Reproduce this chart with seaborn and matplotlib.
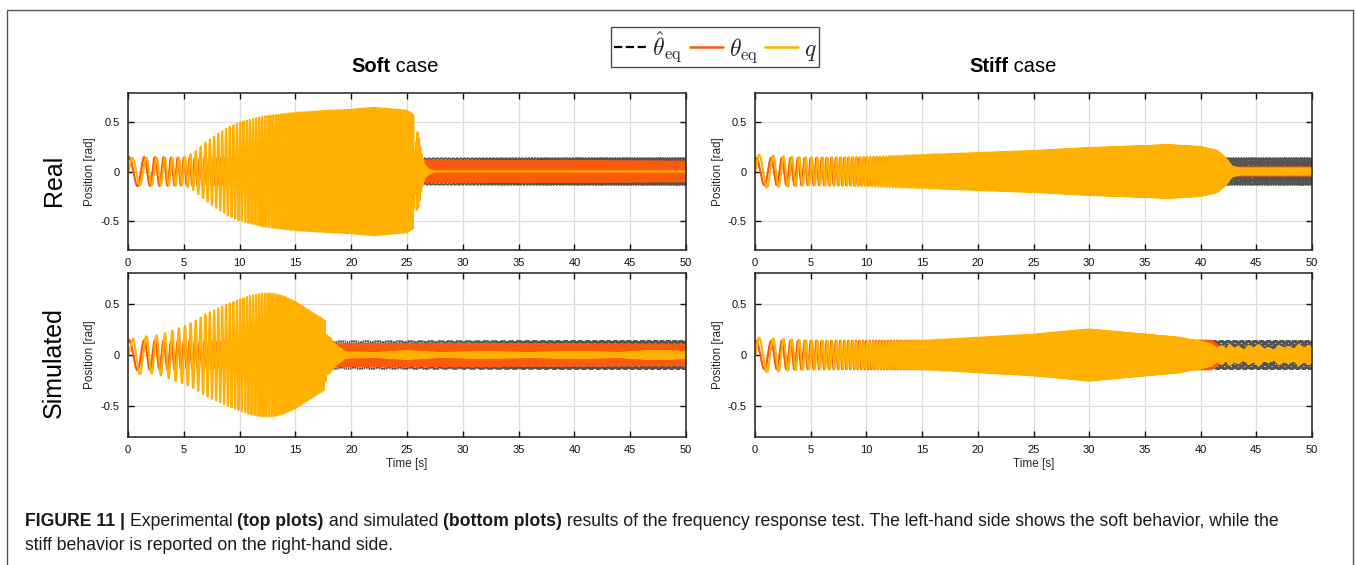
"""
Frequency response test: soft vs stiff, real vs simulated joint positions.
"""

import numpy as np
import pandas as pd
import seaborn as sns
import matplotlib.pyplot as plt
from matplotlib.lines import Line2D


# ---------------------------------------------------------------------
# Data
# ---------------------------------------------------------------------
# chirp reference sweep (Hz) over the test duration (s)
F_START = 0.5
F_END = 14.5
T_END = 50.0
N_SAMPLES = 24000

TIME_TICKS = [0, 5, 10, 15, 20, 25, 30, 35, 40, 45, 50]
POS_TICKS = [-0.5, 0, 0.5]
POS_TICK_LABELS = ["-0.5", "0", "0.5"]

# reference amplitude of theta_eq_hat (rad), same in all panels
HAT_AMP = 0.14

# Soft / Real
SOFT_REAL_EQ_T = [0, 26, 50]
SOFT_REAL_EQ = [0.15, 0.11, 0.10]
SOFT_REAL_Q_T = [0, 0.3, 5, 6, 7, 8, 9, 10, 12, 15, 18, 20, 22, 24, 25,
                 25.55, 25.7, 25.9, 26.05, 26.3, 26.6, 27.0, 27.5, 50]
SOFT_REAL_Q = [0.0, 0.14, 0.14, 0.2, 0.3, 0.38, 0.45, 0.5, 0.56, 0.6, 0.62,
               0.63, 0.65, 0.63, 0.62, 0.58, 0.15, 0.42, 0.35, 0.18, 0.06,
               0.02, 0.0, 0.0]

# Stiff / Real
STIFF_REAL_EQ_T = [0, 42, 43, 50]
STIFF_REAL_EQ = [0.14, 0.14, 0.04, 0.04]
STIFF_REAL_Q_T = [0, 0.3, 5, 10, 15, 20, 25, 30, 35, 37, 40, 41.5, 42.3,
                  42.8, 43.5, 50]
STIFF_REAL_Q = [0.0, 0.17, 0.14, 0.15, 0.17, 0.19, 0.21, 0.24, 0.26, 0.27,
                0.25, 0.21, 0.13, 0.05, 0.03, 0.03]

# Soft / Simulated
SOFT_SIM_EQ_T = [0, 17, 50]
SOFT_SIM_EQ = [0.15, 0.11, 0.10]
SOFT_SIM_Q_T = [0, 0.5, 2, 3, 4, 5, 6, 7, 8, 9, 10, 11, 12, 13, 14, 15, 16,
                17, 17.6, 17.75, 18.1, 18.6, 19.5, 22, 25, 28, 32, 36, 40, 44,
                47, 50]
SOFT_SIM_Q = [0.0, 0.19, 0.18, 0.2, 0.24, 0.28, 0.33, 0.4, 0.45, 0.5, 0.54,
              0.58, 0.6, 0.6, 0.57, 0.52, 0.45, 0.38, 0.34, 0.2, 0.17, 0.1,
              0.03, 0.02, 0.04, 0.02, 0.03, 0.02, 0.03, 0.02, 0.04, 0.03]

# Stiff / Simulated
STIFF_SIM_EQ_T = [0, 41, 42, 50]
STIFF_SIM_EQ = [0.14, 0.14, 0.05, 0.05]
STIFF_SIM_Q_T = [0, 0.3, 5, 10, 15, 20, 25, 28, 30, 32, 35, 38, 40, 41,
                 41.5, 41.9, 42.3, 42.6, 43.0, 43.4, 43.9, 44.3, 44.8, 45.2,
                 45.7, 46.1, 46.6, 47.0, 47.5, 47.9, 48.4, 48.8, 49.3, 49.7,
                 50]
STIFF_SIM_Q = [0.0, 0.17, 0.14, 0.13, 0.14, 0.17, 0.2, 0.23, 0.25, 0.23,
               0.2, 0.17, 0.13, 0.1, 0.06, 0.09, 0.05, 0.1, 0.06, 0.08, 0.04,
               0.09, 0.06, 0.1, 0.05, 0.07, 0.04, 0.09, 0.06, 0.08, 0.05,
               0.1, 0.06, 0.09, 0.07]

COLOR_HAT = "#555555"
COLOR_EQ = "#f95a0c"
COLOR_Q = "#ffb000"

W, H = 1356, 565


# ---------------------------------------------------------------------
# Helpers
# ---------------------------------------------------------------------
def build_panel(eq_t, eq_amp, q_t, q_amp) -> pd.DataFrame:
    t = np.linspace(0, T_END, N_SAMPLES)
    phase = 2 * np.pi * (F_START * t + (F_END - F_START) / (2 * T_END) * t ** 2)
    return pd.DataFrame({
        "time": t,
        "hat": HAT_AMP * np.cos(phase),
        "eq": np.interp(t, eq_t, eq_amp) * np.cos(phase - 0.15),
        "q": np.interp(t, q_t, q_amp) * np.cos(phase - 1.2),
    })


def style_axis(ax, show_xlabel: bool) -> None:
    ax.set_xlim(0, 50)
    ax.set_ylim(-0.8, 0.8)
    ax.set_xticks(TIME_TICKS)
    ax.set_xticklabels([str(v) for v in TIME_TICKS])
    ax.set_yticks(POS_TICKS)
    ax.set_yticklabels(POS_TICK_LABELS)
    ax.grid(True, color="#dcdcdc", linewidth=0.9)
    ax.set_axisbelow(True)
    ax.tick_params(direction="in", length=4, width=1, top=True, right=True,
                   labelsize=8, colors="#111111", pad=6)
    for spine in ax.spines.values():
        spine.set_visible(True)
        spine.set_color("#222222")
        spine.set_linewidth(1.1)
    ax.set_ylabel("Position [rad]", fontsize=8.5, labelpad=3)
    ax.set_xlabel("Time [s]" if show_xlabel else "", fontsize=8.5, labelpad=2)


def draw_panel(ax, df: pd.DataFrame) -> None:
    sns.lineplot(data=df, x="time", y="hat", ax=ax, color=COLOR_HAT,
                 linewidth=0.7, linestyle="--", estimator=None, sort=False)
    sns.lineplot(data=df, x="time", y="eq", ax=ax, color=COLOR_EQ,
                 linewidth=1.5, estimator=None, sort=False)
    sns.lineplot(data=df, x="time", y="q", ax=ax, color=COLOR_Q,
                 linewidth=1.5, estimator=None, sort=False)


def seg_width(fig, renderer, text, **kw) -> float:
    """Width of a text segment in figure fraction, spaces included."""
    a = fig.text(0, 0, "x" + text + "x", **kw)
    b = fig.text(0, 0, "xx", **kw)
    w = a.get_window_extent(renderer).width - b.get_window_extent(renderer).width
    a.remove()
    b.remove()
    return w / fig.bbox.width


# ---------------------------------------------------------------------
# Figure
# ---------------------------------------------------------------------
sns.set_theme(style="ticks")
plt.rcParams["font.family"] = ["Liberation Sans", "DejaVu Sans"]
plt.rcParams["mathtext.fontset"] = "cm"
plt.rcParams["axes.unicode_minus"] = False

fig = plt.figure(figsize=(W / 100, H / 100), dpi=100)
fig.patch.set_facecolor("white")


def px_axes(x0, y0, x1, y1):
    return fig.add_axes([x0 / W, 1 - y1 / H, (x1 - x0) / W, (y1 - y0) / H])


ax_soft_real = px_axes(128, 93, 686, 250)
ax_stiff_real = px_axes(755, 93, 1312, 250)
ax_soft_sim = px_axes(128, 273, 686, 437)
ax_stiff_sim = px_axes(755, 273, 1312, 437)

panels = [
    (ax_soft_real, build_panel(SOFT_REAL_EQ_T, SOFT_REAL_EQ, SOFT_REAL_Q_T, SOFT_REAL_Q), False),
    (ax_stiff_real, build_panel(STIFF_REAL_EQ_T, STIFF_REAL_EQ, STIFF_REAL_Q_T, STIFF_REAL_Q), False),
    (ax_soft_sim, build_panel(SOFT_SIM_EQ_T, SOFT_SIM_EQ, SOFT_SIM_Q_T, SOFT_SIM_Q), True),
    (ax_stiff_sim, build_panel(STIFF_SIM_EQ_T, STIFF_SIM_EQ, STIFF_SIM_Q_T, STIFF_SIM_Q), True),
]
for ax, df, bottom in panels:
    draw_panel(ax, df)
    style_axis(ax, bottom)

# column titles
for x_split, word in [(390.5, "Soft"), (1008.5, "Stiff")]:
    fig.text(x_split / W, 1 - 66 / H, word, ha="right", va="center",
             fontsize=14.5, fontweight="bold", color="black")
    fig.text(x_split / W, 1 - 66 / H, " case", ha="left", va="center",
             fontsize=14.5, color="black")

# row labels
fig.text(54 / W, 1 - 180 / H, "Real", rotation=90, ha="center", va="center",
         fontsize=18, color="black")
fig.text(54 / W, 1 - 363 / H, "Simulated", rotation=90, ha="center",
         va="center", fontsize=18, color="black")

# legend
handles = [
    Line2D([], [], color="black", linestyle="--", linewidth=1.6),
    Line2D([], [], color=COLOR_EQ, linewidth=1.8),
    Line2D([], [], color=COLOR_Q, linewidth=1.8),
]
labels = [r"$\hat{\theta}_{\mathrm{eq}}$", r"$\theta_{\mathrm{eq}}$", r"$q$"]
leg = fig.legend(handles, labels, loc="center", ncol=3,
                 bbox_to_anchor=(715 / W, 1 - 47 / H), frameon=True,
                 fancybox=False, fontsize=17, handlelength=1.4,
                 handletextpad=0.25, columnspacing=0.3, borderpad=0.1,
                 borderaxespad=0)
leg.get_frame().set_edgecolor("#222222")
leg.get_frame().set_linewidth(1.0)

# outer frame
fig.add_artist(Line2D([7 / W, 7 / W, 1353 / W, 1353 / W],
                      [0, 1 - 10 / H, 1 - 10 / H, 0],
                      transform=fig.transFigure, color="#555555", linewidth=1))

# caption
renderer = fig.canvas.get_renderer()
cap_kw = dict(fontsize=12.7, color="#1a1a1a")
line1 = [
    ("FIGURE 11 | ", "bold"),
    ("Experimental ", "normal"),
    ("(top plots)", "bold"),
    (" and simulated ", "normal"),
    ("(bottom plots)", "bold"),
    (" results of the frequency response test. The left-hand side shows "
     "the soft behavior, while the", "normal"),
]
x = 25 / W
for text, weight in line1:
    fig.text(x, 1 - 521 / H, text, ha="left", va="center",
             fontweight=weight, **cap_kw)
    x += seg_width(fig, renderer, text, fontweight=weight, **cap_kw)
fig.text(25 / W, 1 - 546 / H, "stiff behavior is reported on the right-hand side.",
         ha="left", va="center", **cap_kw)

fig.savefig("out.png", dpi=100, facecolor="white")
